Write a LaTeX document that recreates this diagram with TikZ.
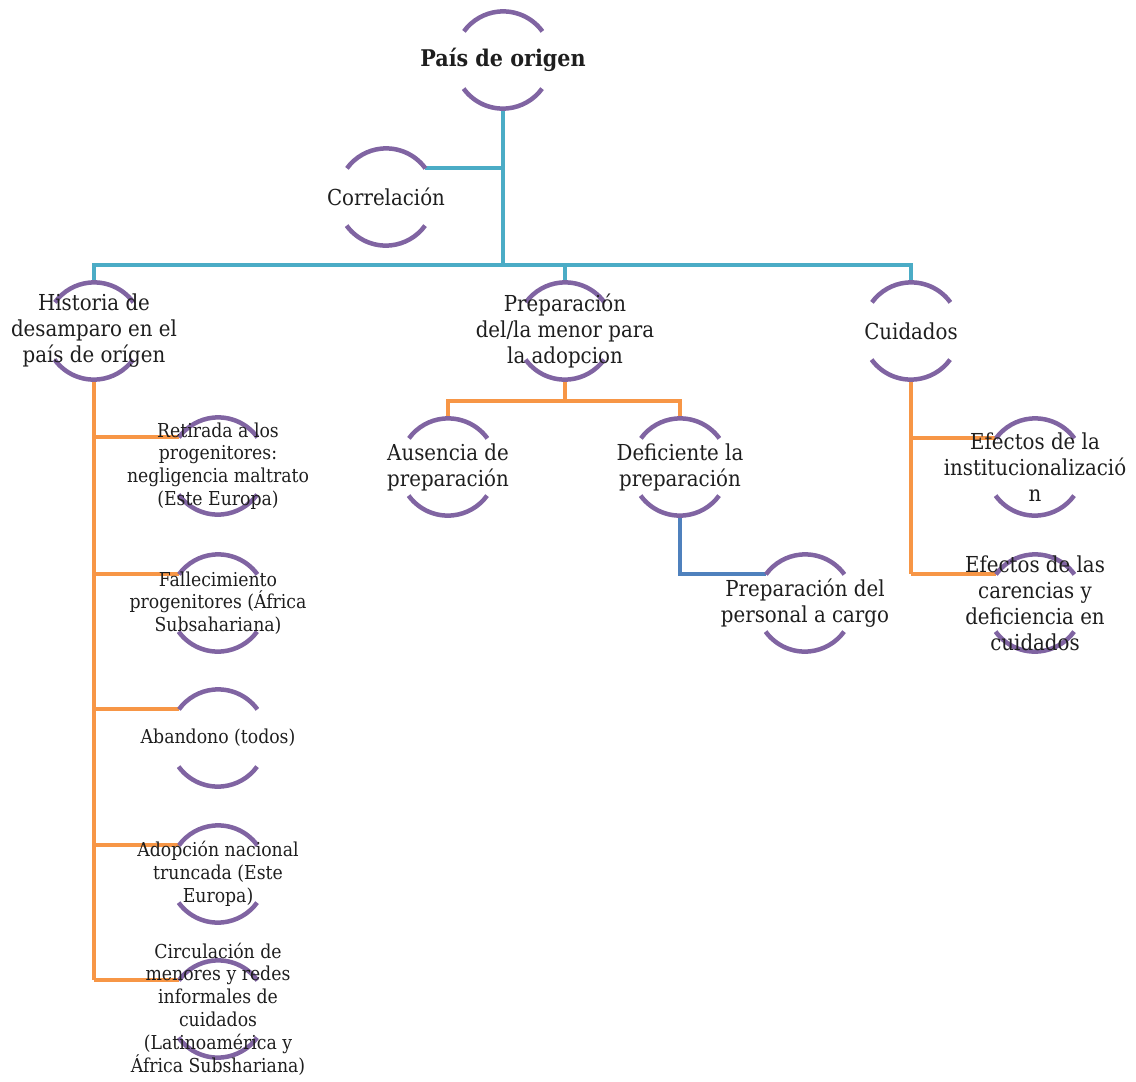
\documentclass[tikz,border=0pt]{standalone}
\usepackage{fontspec}
\setmainfont{DejaVu Serif Condensed}
\usepackage{tikz}
\usetikzlibrary{calc}
\definecolor{ringpurple}{RGB}{128,100,162}
\definecolor{linkteal}{RGB}{75,172,198}
\definecolor{linkorange}{RGB}{247,150,70}
\definecolor{linkblue}{RGB}{79,129,189}
\definecolor{textgray}{RGB}{30,30,30}

\begin{document}
\begin{tikzpicture}[x=1pt,y=-1pt,
    hub/.style={circle,minimum size=97pt,inner sep=0pt},
    ring/.style={ringpurple,line width=4.5pt},
    link/.style={line width=4pt},
    big/.style={font=\fontsize{22}{26}\selectfont,align=center,text=textgray},
    small/.style={font=\fontsize{19.2}{22.8}\selectfont,align=center,text=textgray}]
      \useasboundingbox (0,0) rectangle (1136,1082);
      \def\r{48.5pt}
      %Circle centres
      \foreach \n/\x/\y in {top/503/60, cor/386/197, his/94/331, pre/565/331, cui/911/331,
          aus/448/467, def/680/467, per/805/603,
          ret/218/466, fal/218/603, aba/218/738, ado/218/874, cir/218/1009,
          ins/1035/467, car/1035/603}
        \node[hub] (\n) at (\x,\y) {};
      \coordinate (bus) at (503,265);
      \coordinate (pbus) at (565,401);
      %Draw lines
      \draw[link,linkteal] (top.south) -- (top.south |- bus);
      \draw[link,linkteal] (cor.36) -- (cor.36 -| top.south);
      \draw[link,linkteal] (his.north) |- (bus) -| (cui.north);
      \draw[link,linkteal] (pre.north) -- (pre.north |- bus);
      \draw[link,linkorange] (pre.south) -- (pbus);
      \draw[link,linkorange] (aus.north) |- (pbus) -| (def.north);
      \draw[link,linkblue] (def.south) |- (per.144);
      \draw[link,linkorange] (his.south) -- (his.south |- cir.144);
      \foreach \n in {ret,fal,aba,ado,cir}
        \draw[link,linkorange] (his.south |- \n.144) -- (\n.144);
      \draw[link,linkorange] (cui.south) -- (cui.south |- car.144);
      \foreach \n in {ins,car}
        \draw[link,linkorange] (cui.south |- \n.144) -- (\n.144);
      %Draw the rings
      \foreach \n in {top,cor,his,pre,cui,aus,def,per,ret,fal,aba,ado,cir,ins,car} {
          \draw[ring] (\n.36) arc[start angle=36,end angle=144,radius=\r];
          \draw[ring] (\n.216) arc[start angle=216,end angle=324,radius=\r];
        }
      %Draw labels
      \node[big,font=\fontsize{23}{26}\selectfont\bfseries] (top-t) at (top) {País de origen};
      \node[big] (cor-t) at (cor) {Correlación};
      \node[big] (his-t) at (his) {Historia de\\desamparo en el\\país de orígen};
      \node[big] (pre-t) at (pre) {Preparación\\del/la menor para\\la adopcion};
      \node[big] (cui-t) at (cui) {Cuidados};
      \node[big] (aus-t) at (aus) {Ausencia de\\preparación};
      \node[big] (def-t) at (def) {Deficiente la\\preparación};
      \node[big] (per-t) at (per) {Preparación del\\personal a cargo};
      \node[big] (ins-t) at (ins) {Efectos de la\\institucionalizació\\n};
      \node[big] (car-t) at (car) {Efectos de las\\carencias y\\deficiencia en\\cuidados};
      \node[small] (ret-t) at (ret) {Retirada a los\\progenitores:\\negligencia maltrato\\(Este Europa)};
      \node[small] (fal-t) at (fal) {Fallecimiento\\progenitores (África\\Subsahariana)};
      \node[small] (aba-t) at (aba) {Abandono (todos)};
      \node[small] (ado-t) at (ado) {Adopción nacional\\truncada (Este\\Europa)};
      \node[small] (cir-t) at (cir) {Circulación de\\menores y redes\\informales de\\cuidados\\(Latinoamérica y\\África Subshariana)};
    \end{tikzpicture}
\end{document}
